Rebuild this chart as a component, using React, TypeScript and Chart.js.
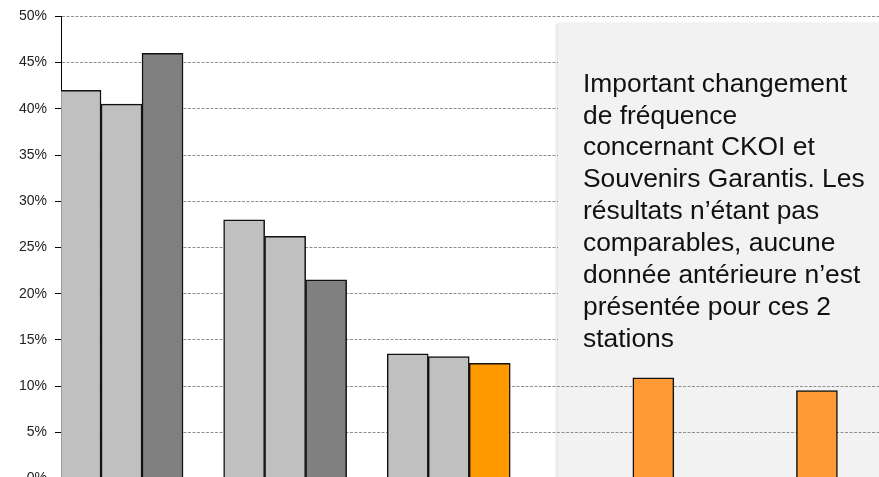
import React, { useEffect, useRef } from 'react';
import { Chart, registerables } from 'chart.js';

Chart.register(...registerables);

// ---- Data ----
const categories = ['Station 1', 'Station 2', 'Station 3', 'CKOI', 'Souvenirs Garantis'];
const seriesNames = ['Période 1', 'Période 2', 'Période 3'];
const series1: (number | null)[] = [42.0, 28.0, 13.5, null, null];
const series2: (number | null)[] = [40.5, 26.2, 13.2, null, null];
const series3: (number | null)[] = [46.0, 21.5, 12.45, 10.9, 9.5];
const series1Colors = ['#C0C0C0', '#C0C0C0', '#C0C0C0', '#C0C0C0', '#C0C0C0'];
const series2Colors = ['#C0C0C0', '#C0C0C0', '#C0C0C0', '#C0C0C0', '#C0C0C0'];
const series3Colors = ['#808080', '#808080', '#FF9900', '#FF9A35', '#FF9A35'];
const yTicks = [0, 5, 10, 15, 20, 25, 30, 35, 40, 45, 50];
const noteLines = [
  'Important changement',
  'de fréquence',
  'concernant CKOI et',
  'Souvenirs Garantis. Les',
  'résultats n\u2019étant pas',
  'comparables, aucune',
  'donnée antérieure n\u2019est',
  'présentée pour ces 2',
  'stations',
];

const FONT = '"Liberation Sans", Arial, Helvetica, sans-serif';

const toPoints = (vals: (number | null)[]) => vals.map((v, i) => ({ x: i, y: v }));

const BOX = { left: 558, top: 24, coverBottom: 372 };

const notePlugin = {
  id: 'notePlugin',
  beforeDraw(chart: any) {
    const { ctx, width, height } = chart;
    ctx.save();
    ctx.fillStyle = '#FFFFFF';
    ctx.fillRect(0, 0, width, height);
    ctx.fillStyle = '#F2F2F2';
    ctx.fillRect(BOX.left, BOX.top, width - BOX.left, height - BOX.top);
    ctx.restore();
  },
  beforeDatasetsDraw(chart: any) {
    const { ctx, width, height } = chart;
    ctx.save();
    ctx.fillStyle = '#F2F2F2';
    ctx.fillRect(BOX.left, BOX.top, width - BOX.left, BOX.coverBottom - BOX.top);
    const gl = ctx.createLinearGradient(BOX.left - 4, 0, BOX.left, 0);
    gl.addColorStop(0, 'rgba(0,0,0,0)');
    gl.addColorStop(1, 'rgba(0,0,0,0.10)');
    ctx.fillStyle = gl;
    ctx.fillRect(BOX.left - 4, BOX.top, 4, height - BOX.top);
    const gt = ctx.createLinearGradient(0, BOX.top - 3, 0, BOX.top);
    gt.addColorStop(0, 'rgba(0,0,0,0)');
    gt.addColorStop(1, 'rgba(0,0,0,0.07)');
    ctx.fillStyle = gt;
    ctx.fillRect(BOX.left, BOX.top - 3, width - BOX.left, 3);
    ctx.restore();
  },
  afterDatasetsDraw(chart: any) {
    const { ctx } = chart;
    ctx.save();
    ctx.font = `26.4px ${FONT}`;
    ctx.fillStyle = '#111111';
    ctx.textAlign = 'left';
    ctx.textBaseline = 'alphabetic';
    noteLines.forEach((line, i) => {
      ctx.fillText(line, 583, 91.7 + i * 31.85);
    });
    ctx.restore();
  },
};

export default function App() {
  const canvasRef = useRef<HTMLCanvasElement | null>(null);

  useEffect(() => {
    if (!canvasRef.current) return;
    const mk = (label: string, vals: (number | null)[], colors: string[]) => ({
      label,
      data: toPoints(vals),
      backgroundColor: colors,
      borderColor: '#111111',
      borderWidth: 1.5,
      barThickness: 41,
    });
    const chart = new Chart(canvasRef.current, {
      type: 'bar',
      data: {
        labels: categories,
        datasets: [
          mk(seriesNames[0], series1, series1Colors),
          mk(seriesNames[1], series2, series2Colors),
          mk(seriesNames[2], series3, series3Colors),
        ] as any,
      },
      options: {
        responsive: false,
        animation: false,
        devicePixelRatio: 1,
        layout: { padding: { top: 16, right: 0, bottom: 21.5, left: 0 } },
        plugins: {
          legend: { display: false },
          tooltip: { enabled: false },
        },
        scales: {
          x: {
            type: 'linear',
            min: -0.37,
            max: 4.63,
            offset: false,
            display: false,
            grid: { display: false },
            ticks: { stepSize: 1, includeBounds: false },
          },
          y: {
            min: 0,
            max: 50,
            afterFit: (s: any) => {
              s.width = 61;
            },
            afterBuildTicks: (s: any) => {
              s.ticks = yTicks.map((v) => ({ value: v }));
            },
            ticks: {
              callback: (v: any) => `${v}%`,
              padding: 8,
              color: '#222222',
              font: { family: FONT, size: 14 },
            },
            grid: {
              color: '#8F8F8F',
              lineWidth: 1,
              tickColor: '#000000',
              tickLength: 6,
              tickWidth: 1,
              tickBorderDash: [],
            },
            border: { color: '#000000', width: 1, dash: [3, 1.5] },
          },
        } as any,
      },
      plugins: [notePlugin],
    });
    return () => chart.destroy();
  }, []);

  return (
    <div
      style={{
        position: 'fixed',
        left: 0,
        top: 0,
        width: 879,
        height: 477,
        overflow: 'hidden',
        background: '#FFFFFF',
      }}
    >
      <canvas ref={canvasRef} width={879} height={500} style={{ width: 879, height: 500, display: 'block' }} />
    </div>
  );
}
